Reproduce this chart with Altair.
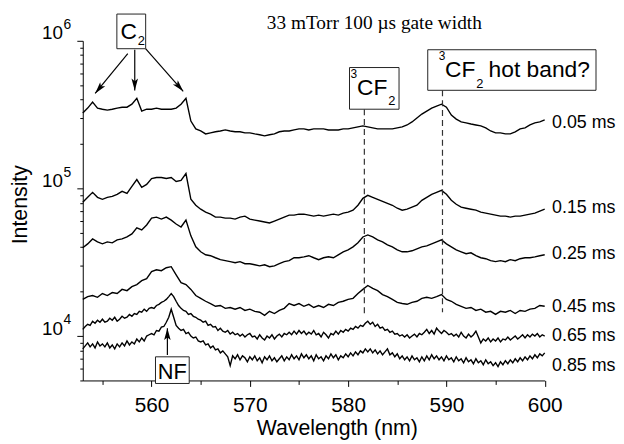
import altair as alt
import pandas as pd

# ---------------- data ----------------
WAVELENGTH = [553.0, 553.5, 554.0, 554.5, 555.0, 555.5, 556.0, 556.5, 557.0, 557.5,
              558.0, 558.5, 559.0, 559.5, 560.0, 560.5, 561.0, 561.5, 562.0, 562.5,
              563.0, 563.5, 564.0, 564.5, 565.0, 565.5, 566.0, 566.5, 567.0, 567.5,
              568.0, 568.5, 569.0, 569.5, 570.0, 570.5, 571.0, 571.5, 572.0, 572.5,
              573.0, 573.5, 574.0, 574.5, 575.0, 575.5, 576.0, 576.5, 577.0, 577.5,
              578.0, 578.5, 579.0, 579.5, 580.0, 580.5, 581.0, 581.5, 582.0, 582.5,
              583.0, 583.5, 584.0, 584.5, 585.0, 585.5, 586.0, 586.5, 587.0, 587.5,
              588.0, 588.5, 589.0, 589.5, 590.0, 590.5, 591.0, 591.5, 592.0, 592.5,
              593.0, 593.5, 594.0, 594.5, 595.0, 595.5, 596.0, 596.5, 597.0, 597.5,
              598.0, 598.5, 599.0, 599.5, 600.0]

WAVELENGTH_FINE = [
    553.0, 553.25, 553.5, 553.75, 554.0, 554.25, 554.5, 554.75,
    555.0, 555.25, 555.5, 555.75, 556.0, 556.25, 556.5, 556.75,
    557.0, 557.25, 557.5, 557.75, 558.0, 558.25, 558.5, 558.75,
    559.0, 559.25, 559.5, 559.75, 560.0, 560.25, 560.5, 560.75,
    561.0, 561.25, 561.5, 561.75, 562.0, 562.25, 562.5, 562.75,
    563.0, 563.25, 563.5, 563.75, 564.0, 564.25, 564.5, 564.75,
    565.0, 565.25, 565.5, 565.75, 566.0, 566.25, 566.5, 566.75,
    567.0, 567.25, 567.5, 567.75, 568.0, 568.25, 568.5, 568.75,
    569.0, 569.25, 569.5, 569.75, 570.0, 570.25, 570.5, 570.75,
    571.0, 571.25, 571.5, 571.75, 572.0, 572.25, 572.5, 572.75,
    573.0, 573.25, 573.5, 573.75, 574.0, 574.25, 574.5, 574.75,
    575.0, 575.25, 575.5, 575.75, 576.0, 576.25, 576.5, 576.75,
    577.0, 577.25, 577.5, 577.75, 578.0, 578.25, 578.5, 578.75,
    579.0, 579.25, 579.5, 579.75, 580.0, 580.25, 580.5, 580.75,
    581.0, 581.25, 581.5, 581.75, 582.0, 582.25, 582.5, 582.75,
    583.0, 583.25, 583.5, 583.75, 584.0, 584.25, 584.5, 584.75,
    585.0, 585.25, 585.5, 585.75, 586.0, 586.25, 586.5, 586.75,
    587.0, 587.25, 587.5, 587.75, 588.0, 588.25, 588.5, 588.75,
    589.0, 589.25, 589.5, 589.75, 590.0, 590.25, 590.5, 590.75,
    591.0, 591.25, 591.5, 591.75, 592.0, 592.25, 592.5, 592.75,
    593.0, 593.25, 593.5, 593.75, 594.0, 594.25, 594.5, 594.75,
    595.0, 595.25, 595.5, 595.75, 596.0, 596.25, 596.5, 596.75,
    597.0, 597.25, 597.5, 597.75, 598.0, 598.25, 598.5, 598.75,
    599.0, 599.25, 599.5, 599.75, 600.0]

SERIES = ["0.05 ms", "0.15 ms", "0.25 ms", "0.45 ms", "0.65 ms", "0.85 ms"]

# intensities in units of 10^3 counts
S005 = [324, 350, 384, 350, 344, 339, 344, 350, 355, 355,
        372, 408, 334, 344, 344, 350, 344, 344, 344, 350,
        372, 408, 286, 253, 245, 234, 238, 242, 245, 249,
        245, 242, 242, 238, 238, 234, 231, 227, 231, 234,
        242, 245, 245, 249, 253, 253, 249, 253, 253, 253,
        249, 249, 249, 253, 253, 257, 261, 265, 261, 257,
        253, 253, 253, 253, 257, 261, 269, 282, 300, 319,
        334, 350, 361, 372, 355, 314, 295, 282, 278, 273,
        269, 265, 257, 245, 238, 238, 234, 234, 242, 253,
        257, 269, 278, 282, 291]
S015 = [80.6, 87.0, 94.0, 87.0, 84.4, 87.0, 88.4, 91.2, 95.5, 92.6,
        103.1, 114.9, 101.6, 106.4, 116.7, 118.5, 118.5, 116.7, 118.5, 111.4,
        113.2, 126.1, 84.4, 76.9, 72.3, 69.0, 66.9, 63.9, 63.9, 62.9,
        62.9, 62.0, 63.9, 64.9, 62.0, 61.0, 60.1, 59.2, 58.3, 60.1,
        62.0, 63.9, 65.9, 65.9, 66.9, 66.9, 65.9, 64.9, 65.9, 64.9,
        65.9, 66.9, 65.9, 68.0, 69.0, 71.2, 76.9, 85.7, 89.8, 87.0,
        84.4, 81.8, 79.3, 76.9, 73.4, 71.2, 72.3, 74.6, 76.9, 83.1,
        87.0, 91.2, 94.0, 97.0, 91.2, 83.1, 78.1, 74.6, 73.4, 72.3,
        71.2, 69.0, 68.0, 66.9, 65.9, 64.9, 64.9, 63.9, 64.9, 64.9,
        65.9, 66.9, 68.0, 70.1, 72.3]
S025 = [39.6, 42.1, 45.5, 43.4, 42.1, 43.4, 42.8, 44.8, 45.5, 46.9,
        49.2, 54.0, 52.3, 56.5, 62.9, 63.9, 62.0, 63.9, 61.0, 57.4,
        54.8, 61.0, 47.7, 40.2, 37.2, 35.5, 35.0, 33.9, 32.9, 32.4,
        31.9, 31.4, 31.9, 30.9, 30.9, 30.4, 29.9, 30.4, 29.5, 29.9,
        30.9, 31.9, 32.4, 33.9, 33.9, 34.4, 35.0, 33.9, 32.9, 33.9,
        34.4, 33.9, 35.5, 37.2, 38.4, 40.2, 42.8, 46.9, 48.4, 46.9,
        44.8, 43.4, 41.5, 40.2, 38.4, 37.2, 37.2, 37.8, 39.0, 40.2,
        40.8, 42.1, 43.4, 44.8, 42.1, 40.2, 38.4, 37.2, 36.1, 36.6,
        35.0, 33.9, 33.4, 32.4, 31.9, 32.4, 31.9, 32.9, 32.4, 33.4,
        33.9, 33.9, 34.4, 35.0, 35.5]
S045 = [17.7, 18.5, 18.8, 18.3, 19.4, 18.8, 19.7, 19.4, 20.7, 20.3,
        21.6, 22.3, 23.7, 24.5, 27.3, 28.1, 27.7, 29.0, 29.5, 26.0,
        23.0, 22.3, 20.7, 18.8, 18.0, 17.2, 16.6, 15.9, 16.1, 15.4,
        15.6, 15.2, 15.6, 14.9, 15.2, 14.7, 14.5, 13.8, 14.7, 14.2,
        14.9, 15.4, 16.6, 16.1, 16.6, 15.9, 16.4, 15.6, 16.1, 15.6,
        16.4, 16.1, 16.9, 17.2, 17.7, 18.0, 19.4, 20.7, 22.0, 21.0,
        20.3, 19.1, 18.5, 17.7, 16.9, 16.6, 16.4, 16.9, 17.2, 18.0,
        18.3, 18.0, 18.5, 19.1, 17.7, 17.2, 16.4, 15.9, 15.4, 15.6,
        14.9, 15.2, 14.5, 14.7, 14.0, 14.7, 14.5, 14.9, 14.2, 14.9,
        14.7, 15.2, 15.4, 16.1, 15.9]
S065 = [11.1, 11.6, 12.0, 11.8, 12.6, 12.2, 12.8, 12.4,
        13.0, 12.4, 12.6, 13.2, 12.8, 13.4, 12.6, 13.0,
        13.6, 13.2, 13.4, 14.0, 13.6, 14.2, 14.0, 14.7,
        14.5, 15.2, 14.7, 15.4, 15.6, 15.4, 16.1, 16.4,
        16.9, 17.2, 17.7, 18.5, 19.4, 18.5, 17.2, 16.1,
        15.4, 14.9, 14.7, 14.0, 14.2, 13.6, 13.4, 13.0,
        12.8, 12.4, 12.6, 11.8, 12.0, 11.5, 11.6, 10.9,
        11.3, 10.8, 10.6, 10.9, 10.3, 10.6, 10.2, 10.4,
        10.0, 10.3, 9.85, 10.2, 10.4, 9.85, 10.0, 9.55,
        10.2, 9.70, 9.40, 10.0, 9.70, 10.2, 9.55, 10.0,
        10.3, 9.85, 10.4, 10.2, 10.6, 10.2, 10.8, 10.3,
        10.9, 10.4, 10.8, 10.2, 10.6, 10.3, 10.9, 10.2,
        10.4, 9.85, 10.6, 10.2, 9.70, 10.4, 10.2, 10.8,
        10.3, 10.9, 10.6, 11.1, 10.8, 11.3, 11.1, 11.6,
        11.3, 11.8, 11.6, 12.2, 12.6, 12.0, 12.4, 11.6,
        12.0, 11.3, 11.5, 10.9, 11.1, 10.6, 10.8, 10.3,
        10.4, 10.0, 10.2, 9.85, 10.2, 9.70, 10.0, 10.3,
        9.85, 10.4, 10.2, 10.6, 11.1, 10.4, 10.9, 10.3,
        11.3, 10.8, 10.4, 10.9, 10.6, 10.2, 10.4, 10.0,
        10.3, 9.85, 10.6, 10.0, 9.70, 10.3, 9.85, 10.2,
        10.8, 9.85, 8.98, 9.55, 9.26, 9.70, 9.12, 9.55,
        9.26, 9.70, 9.12, 9.55, 9.40, 9.85, 9.40, 9.70,
        10.0, 9.55, 9.85, 10.2, 9.70, 10.2, 9.85, 10.3,
        10.0, 10.4, 9.85, 10.2, 10.0]
S085 = [8.18, 8.57, 8.98, 8.44, 8.84, 8.31, 9.12, 8.57,
        8.84, 8.44, 8.98, 8.31, 8.70, 8.18, 8.84, 8.44,
        8.98, 8.57, 9.26, 8.70, 9.12, 8.84, 9.55, 9.12,
        9.70, 9.26, 10.0, 10.2, 10.4, 10.2, 10.9, 10.8,
        11.5, 11.6, 12.4, 13.4, 15.2, 13.4, 11.8, 11.3,
        10.9, 11.1, 10.4, 10.6, 10.0, 9.70, 9.85, 9.26,
        9.12, 9.26, 8.70, 8.84, 8.31, 8.57, 8.06, 8.18,
        7.69, 7.93, 7.57, 7.23, 6.30, 7.34, 7.01, 7.46,
        6.90, 7.34, 7.12, 6.69, 7.23, 6.90, 7.34, 6.80,
        7.12, 6.59, 7.23, 6.90, 7.34, 6.80, 7.12, 6.69,
        7.01, 7.34, 6.80, 7.23, 6.90, 7.46, 7.01, 7.34,
        6.90, 7.57, 7.12, 7.46, 7.01, 7.34, 6.80, 7.46,
        7.01, 7.23, 6.80, 7.34, 7.01, 7.57, 7.12, 7.46,
        6.90, 7.34, 7.12, 7.57, 7.23, 7.69, 7.34, 7.81,
        7.46, 7.93, 7.69, 8.18, 7.81, 8.18, 7.69, 8.06,
        7.57, 7.93, 7.46, 7.81, 8.18, 7.46, 7.69, 7.23,
        7.57, 7.01, 7.34, 6.90, 7.23, 6.80, 7.34, 6.90,
        7.12, 6.69, 7.23, 6.80, 7.34, 6.90, 7.46, 7.01,
        7.34, 6.90, 7.23, 6.80, 7.34, 6.90, 7.12, 6.69,
        7.23, 6.80, 7.01, 6.59, 7.12, 6.69, 6.90, 6.49,
        7.01, 6.59, 6.80, 6.39, 6.90, 6.49, 6.69, 6.30,
        6.59, 6.20, 6.69, 6.39, 6.80, 6.49, 6.90, 6.59,
        7.01, 6.69, 7.12, 6.80, 7.23, 6.90, 7.34, 7.01,
        7.46, 7.12, 7.57, 7.34, 7.69]

X_TICKS = [555, 560, 565, 570, 575, 580, 585, 590, 595, 600]
Y_TICKS = [5000, 6000, 7000, 8000, 9000, 10000,
           20000, 30000, 40000, 50000, 60000, 70000, 80000, 90000, 100000,
           200000, 300000, 400000, 500000, 600000, 700000, 800000, 900000, 1000000]

rows = []
for name, wls, vals in zip(
        SERIES,
        [WAVELENGTH, WAVELENGTH, WAVELENGTH, WAVELENGTH, WAVELENGTH_FINE, WAVELENGTH_FINE],
        [S005, S015, S025, S045, S065, S085]):
    for wl, v in zip(wls, vals):
        rows.append({"wl": wl, "I": v * 1000.0, "series": name})
spectra = pd.DataFrame(rows)

# series labels at the right end
LABEL_X = [600.75] * 6
LABEL_Y = [277000, 73500, 36100, 15700, 10000, 6300]
labels = pd.DataFrame({"x": LABEL_X, "y": LABEL_Y, "t": SERIES})

# annotation geometry (data coordinates)
boxes = pd.DataFrame({
    "x": [556.47, 580.14, 588.10, 560.40],
    "x2": [559.40, 585.18, 605.22, 563.83],
    "y": [1518000, 659000, 870000, 7230],
    "y2": [884000, 344000, 462000, 4770],
})
dashes = pd.DataFrame({
    "x": [581.65, 589.6],
    "y": [344000, 462000],
    "y2": [13600, 14500],
})
arrows = pd.DataFrame({
    "x": [557.58, 558.29, 559.39, 561.61],
    "y": [819000, 870000, 884000, 7450],
    "x2": [554.26, 558.29, 563.22, 561.61],
    "y2": [440000, 461000, 455000, 11300],
    "a": [219.5, 180, 138.5, 0],
})
box_text = pd.DataFrame({
    "x": [556.83, 558.59, 580.24, 580.90, 584.07, 589.21, 589.86, 593.03, 594.29],
    "y": [1031000, 940000, 556000, 427000, 366000, 746000, 565000, 476000, 565000],
    "t": ["C", "2", "3", "CF", "2", "3", "CF", "2", "hot band?"],
    "s": [23, 13, 12, 23, 13, 12, 23, 13, 23],
})
sup_text = pd.DataFrame({
    "x": [551.04, 551.04, 551.04],
    "y": [12000, 120000, 1200000],
    "t": ["4", "5", "6"],
})
ann_nf = pd.DataFrame({"x": [562.11], "y": [5145], "t": ["NF"]})
title_df = pd.DataFrame({"x": [582.66], "y": [1204000], "t": ["33 mTorr 100 \u00b5s gate width"]})

SANS = "Liberation Sans"
ARROW = "M0,0 L0.55,2 L0,1.55 L-0.55,2 Z"

xscale = alt.Scale(domain=[553, 600], nice=False, zero=False)
yscale = alt.Scale(type="log", domain=[5000, 1000000], nice=False)

x_axis = alt.Axis(
    values=X_TICKS, title="Wavelength (nm)", grid=False,
    labelExpr="datum.value % 10 === 0 ? datum.label : ''",
    tickSize={"condition": {"test": "datum.value % 10 === 0", "value": 6}, "value": 4},
    labelPadding=8, labelFont=SANS, labelFontSize=21, labelColor="black",
    labelFlush=False, labelOverlap=False,
    titleFont=SANS, titleFontSize=21.5, titleFontWeight="normal", titleColor="black",
    titleX=256.5, titleY=55, titleBaseline="alphabetic", titleAlign="center",
    domainColor="black", tickColor="black", domainWidth=1, tickWidth=1,
)
y_axis = alt.Axis(
    values=Y_TICKS, title="Intensity", grid=False,
    labelExpr="indexof([10000, 100000, 1000000], datum.value) >= 0 ? '10' : ''",
    tickSize={"condition": {"test": "indexof([10000, 100000, 1000000], datum.value) >= 0", "value": 6}, "value": 3},
    labelPadding=14.5, labelFont=SANS, labelFontSize=19, labelColor="black",
    labelBaseline="alphabetic", labelOffset=-2, labelFlush=False, labelOverlap=False,
    titleFont=SANS, titleFontSize=21.5, titleFontWeight="normal", titleColor="black",
    titleX=-56.5, titleY=165, titleBaseline="alphabetic", titleAlign="center", titleAngle=270,
    domainColor="black", tickColor="black", domainWidth=1, tickWidth=1,
)


def X(f):
    return alt.X(f, type="quantitative", scale=xscale, axis=x_axis)


def Y(f):
    return alt.Y(f, type="quantitative", scale=yscale, axis=y_axis)


lines = alt.Chart(spectra).mark_line(color="black", strokeWidth=1.4).encode(
    x=X("wl"), y=Y("I"), detail="series:N")

dash_layer = alt.Chart(dashes).mark_rule(color="#333333", strokeWidth=1.2, strokeDash=[6, 4]).encode(
    x=X("x"), y=Y("y"), y2="y2:Q")

arrow_lines = alt.Chart(arrows).mark_rule(color="black", strokeWidth=1.2).encode(
    x=X("x"), y=Y("y"), x2="x2:Q", y2="y2:Q")

arrow_heads = alt.Chart(arrows).mark_point(
    shape=ARROW, filled=True, color="black", size=144, opacity=1, strokeWidth=0
).encode(x=X("x2"), y=Y("y2"), angle=alt.Angle("a:Q", scale=None))

box_layer = alt.Chart(boxes).mark_rect(fill="white", stroke="#222222", strokeWidth=1).encode(
    x=X("x"), x2="x2:Q", y=Y("y"), y2="y2:Q")

box_label = alt.Chart(box_text).mark_text(
    align="left", baseline="alphabetic", font=SANS, color="black"
).encode(x=X("x"), y=Y("y"), text="t:N", size=alt.Size("s:Q", scale=None))

sup_label = alt.Chart(sup_text).mark_text(
    align="left", baseline="alphabetic", font=SANS, fontSize=14, color="black"
).encode(x=X("x"), y=Y("y"), text="t:N")

nf_text = alt.Chart(ann_nf).mark_text(
    align="center", baseline="alphabetic", font=SANS, fontSize=22, color="black"
).encode(x=X("x"), y=Y("y"), text="t:N")

series_text = alt.Chart(labels).mark_text(
    align="left", baseline="middle", font=SANS, fontSize=18, color="black"
).encode(x=X("x"), y=Y("y"), text="t:N")

title_text = alt.Chart(title_df).mark_text(
    align="center", baseline="alphabetic", font="Liberation Serif", fontSize=19.5, color="black"
).encode(x=X("x"), y=Y("y"), text="t:N")

chart = alt.layer(
    lines, dash_layer, arrow_lines, arrow_heads, box_layer,
    box_label, sup_label, nf_text, series_text, title_text
).properties(
    width=466.5, height=343,
    padding={"left": 75.5, "top": 31, "right": 72, "bottom": 58},
    autosize=alt.AutoSizeParams(type="none"),
).configure_view(stroke=None)

chart.save("out.html", embed_options={"renderer": "svg", "actions": False})
